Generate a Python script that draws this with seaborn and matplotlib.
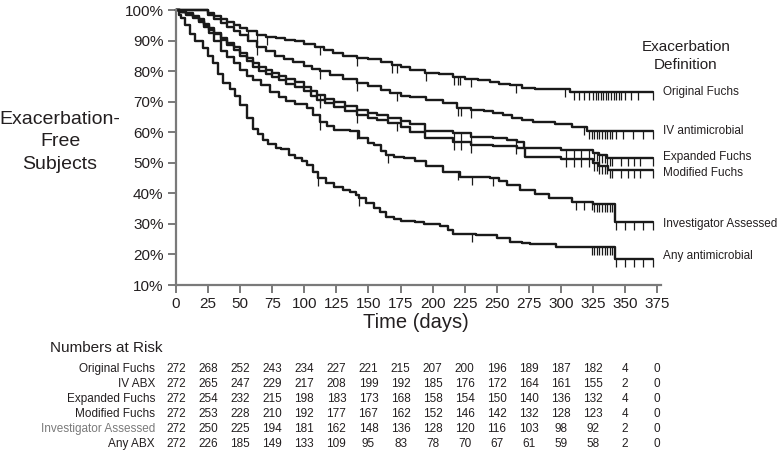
import numpy as np
import pandas as pd
import matplotlib
matplotlib.use("Agg")
import matplotlib.pyplot as plt
import matplotlib.transforms as mtransforms
from matplotlib.ticker import FuncFormatter
import seaborn as sns

# ---------------- data ----------------
orig_days = [0, 20, 25, 30, 35, 40, 45, 50, 55, 63, 70, 78, 85, 93, 100, 108, 115, 122, 130, 141,
             150, 160, 168, 175, 182, 194, 205, 216, 225, 235, 245, 252, 260, 270, 280, 307, 372]
orig_surv = [100, 100, 99, 98, 97, 96, 95, 94.2, 93, 91.8, 91.2, 90.7, 90.2, 89.8, 89, 88, 86.8, 85.8, 85, 84.3,
             84, 83, 82, 81.5, 80.5, 79.5, 79, 78.2, 77.5, 77, 76.5, 75.8, 75.3, 74.6, 74.0, 73.3, 73.3]

iv_days = [0, 20, 25, 30, 35, 40, 45, 50, 56, 63, 70, 77, 84, 91, 100, 106, 112, 120, 130, 141,
           150, 160, 167, 175, 182, 195, 208, 219, 230, 240, 247, 255, 262, 270, 278, 295, 309, 320, 372]
iv_surv = [100, 100, 98.5, 97, 95.8, 94.6, 93.2, 91.8, 90, 88, 86.5, 85, 84, 83, 81.8, 80.8, 80, 78.8, 77.5, 76.2,
           75, 73.8, 72.8, 72, 71.6, 70.5, 69.5, 68, 67.3, 66.8, 66.3, 65.5, 64.8, 64, 63.3, 62.8, 61.8, 60.5, 60.5]

exp_days = [0, 3, 8, 13, 18, 22, 26, 30, 35, 40, 45, 50, 55, 60, 65, 70, 75, 80, 86, 93, 100, 105, 110,
            116, 123, 132, 141, 150, 157, 165, 175, 182, 194, 216, 230, 247, 258, 266, 271, 300, 325, 330, 336, 372]
exp_surv = [100, 99.5, 99, 98, 97, 95.5, 94, 92.5, 91, 89.3, 87.8, 86, 84.3, 82.5, 81.3, 80.5, 79.5, 78.5, 77.3,
            76.3, 74.9, 73.5, 72.2, 71, 70, 68.5, 67.3, 66.3, 65.6, 64.6, 63.7, 62.6, 60.4, 59.6, 58.5, 58.2, 57.5,
            56.9, 54.7, 54.2, 53.3, 52.5, 51.5, 51.5]

mod_days = [0, 3, 8, 13, 18, 22, 26, 30, 35, 40, 45, 50, 55, 60, 65, 70, 75, 80, 86, 93, 100, 105, 110,
            116, 123, 132, 141, 150, 157, 165, 175, 182, 194, 216, 230, 247, 266, 272, 300, 325, 330, 337, 372]
mod_surv = [100, 99.5, 98.8, 97.8, 96.5, 95, 93.5, 92, 90.3, 88.5, 86.8, 85, 83.3, 81.2, 80, 79, 78, 77, 75.8,
            74.9, 73.5, 72, 70.5, 69.5, 68.4, 67, 65.6, 64.8, 64, 63, 61.8, 60.2, 58, 56.9, 55.8, 55.5, 55, 52,
            51.3, 50, 49, 47.5, 47.5]

inv_days = [0, 3, 8, 13, 18, 22, 26, 30, 35, 40, 45, 50, 55, 60, 66, 73, 80, 86, 93, 102, 107, 112, 118,
            123, 136, 143, 150, 154, 160, 164, 170, 178, 186, 195, 208, 221, 245, 252, 258, 268, 280, 291, 309,
            325, 342, 372]
inv_surv = [100, 99.5, 98.5, 97.5, 96, 94.5, 92.5, 90, 86.5, 84.5, 82.5, 80.5, 78.5, 77, 75.5, 73.3, 71.5, 70.3,
            69.2, 67.9, 65.5, 63.5, 62, 60.7, 60.3, 58, 56.5, 55.8, 54, 52.5, 52, 51.5, 50.6, 49, 47.1, 45.5, 45,
            44, 42.7, 41.1, 39.7, 38.4, 37.3, 36.4, 30.5, 30.5]

any_days = [0, 2, 4, 7, 11, 15, 21, 25, 29, 33, 37, 42, 46, 50, 55, 60, 64, 68, 72, 78, 82, 88, 93, 98,
            102, 107, 111, 117, 123, 130, 136, 140, 143, 148, 154, 159, 164, 170, 175, 186, 193, 206, 212, 216,
            234, 250, 260, 270, 276, 296, 325, 342, 372]
any_surv = [100, 98.5, 97.4, 95, 92, 90, 87.5, 85, 82.5, 79, 76, 74, 72, 69, 64.5, 61, 59.5, 57.5, 56, 55,
            54.5, 52.5, 51.6, 50.5, 49.3, 47, 45, 43.5, 42.2, 41.2, 40.5, 39.5, 38.5, 37, 35.2, 33.8, 32.4, 31.5,
            31, 30.7, 30, 29.4, 28, 26.7, 26.5, 25.3, 24.2, 23.6, 23.4, 22.6, 22.3, 18.5, 18.5]

# censoring times
orig_cens = [56, 63, 71, 112, 141, 168, 172, 195, 217, 220, 221, 230, 265, 303, 310, 314, 318, 322, 325, 327,
             329, 331, 333, 335, 337, 339, 341, 343, 345, 347, 350, 355, 360, 372]
iv_cens = [63, 112, 141, 172, 220, 222, 230, 318, 322, 324, 326, 328, 330, 332, 334, 336, 338, 340, 343, 348,
           356, 364, 372]
exp_cens = [112, 217, 222, 230, 265, 304, 310, 316, 322, 326, 328, 330, 332, 334, 336, 338, 340, 347, 352,
            357, 362, 372]
mod_cens = [112, 141, 172, 217, 222, 230, 265, 304, 310, 316, 322, 326, 328, 330, 332, 334, 336, 338, 340,
            347, 352, 357, 362, 372]
inv_cens = [112, 141, 165, 220, 231, 247, 312, 318, 324, 326, 328, 330, 332, 334, 336, 338, 340, 343, 350,
            357, 364, 372]
any_cens = [111, 143, 231, 324, 326, 328, 330, 332, 334, 336, 338, 340, 343, 350, 357, 364, 372]

curve_labels = ["Original Fuchs", "IV antimicrobial", "Expanded Fuchs", "Modified Fuchs",
                "Investigator Assessed", "Any antimicrobial"]

risk_days = [0, 25, 50, 75, 100, 125, 150, 175, 200, 225, 250, 275, 300, 325, 350, 375]
risk_rows = ["Original Fuchs", "IV ABX", "Expanded Fuchs", "Modified Fuchs", "Investigator Assessed", "Any ABX"]
risk_orig = [272, 268, 252, 243, 234, 227, 221, 215, 207, 200, 196, 189, 187, 182, 4, 0]
risk_iv = [272, 265, 247, 229, 217, 208, 199, 192, 185, 176, 172, 164, 161, 155, 2, 0]
risk_exp = [272, 254, 232, 215, 198, 183, 173, 168, 158, 154, 150, 140, 136, 132, 4, 0]
risk_mod = [272, 253, 228, 210, 192, 177, 167, 162, 152, 146, 142, 132, 128, 123, 4, 0]
risk_inv = [272, 250, 225, 194, 181, 162, 148, 136, 128, 120, 116, 103, 98, 92, 2, 0]
risk_any = [272, 226, 185, 149, 133, 109, 95, 83, 78, 70, 67, 61, 59, 58, 2, 0]

y_ticks = [10, 20, 30, 40, 50, 60, 70, 80, 90, 100]
x_ticks = risk_days

# ---------------- styling ----------------
sns.set_theme(style="white")
plt.rcParams["font.family"] = ["Liberation Sans", "DejaVu Sans"]
TXT = "#231f20"
AX = "#7a7a7a"

W, H = 777, 462
fig = plt.figure(figsize=(W / 100, H / 100), dpi=100)
fig.patch.set_facecolor("white")


def fx(px):
    return px / W


def fy(py):
    return 1 - py / H


ax = fig.add_axes([fx(176), fy(285), fx(661) - fx(176), fy(10) - fy(285)])
ax.set_facecolor("white")

curves = [
    (orig_days, orig_surv, orig_cens),
    (iv_days, iv_surv, iv_cens),
    (exp_days, exp_surv, exp_cens),
    (mod_days, mod_surv, mod_cens),
    (inv_days, inv_surv, inv_cens),
    (any_days, any_surv, any_cens),
]

for name, (d, s, c) in zip(curve_labels, curves):
    df = pd.DataFrame({"day": d, "surv": s})
    sns.lineplot(data=df, x="day", y="surv", estimator=None, sort=False, drawstyle="steps-post",
                 color="#1a1a1a", lw=1.7, ax=ax, clip_on=False)
    d_arr = np.asarray(d, dtype=float)
    s_arr = np.asarray(s, dtype=float)
    idx = np.searchsorted(d_arr, np.asarray(c, dtype=float), side="right") - 1
    ax.plot(c, s_arr[idx], ls="none", marker=3, ms=5.5, mew=0.9, color="#1a1a1a", clip_on=False)

ax.set_xlim(0, 378)
ax.set_ylim(10, 100)
ax.set_xticks(x_ticks)
ax.set_yticks(y_ticks)
ax.yaxis.set_major_formatter(FuncFormatter(lambda v, p: f"{int(v)}%"))
ax.set_xlabel("")
ax.set_ylabel("")
for sp in ["top", "right"]:
    ax.spines[sp].set_visible(False)
for sp in ["left", "bottom"]:
    ax.spines[sp].set_color(AX)
    ax.spines[sp].set_linewidth(1.6)
ax.tick_params(axis="both", which="major", direction="out", length=6, width=1.4, color=AX,
               labelsize=11, labelcolor=TXT, left=True, bottom=True)
ax.tick_params(axis="y", pad=3)
ax.tick_params(axis="x", pad=3)

# axis titles
fig.text(fx(416), fy(322), "Time (days)", ha="center", va="center", fontsize=14.5, color=TXT)
fig.text(fx(60), fy(142), "Exacerbation-\nFree\nSubjects", ha="center", va="center",
         fontsize=14, color=TXT, linespacing=1.45)

# legend-like labels
fig.text(fx(686), fy(56), "Exacerbation\nDefinition", ha="center", va="center", fontsize=11,
         color=TXT, linespacing=1.45)
label_y = [91.5, 130.5, 157, 173, 223.5, 256.5]
for name, ly in zip(curve_labels, label_y):
    fig.text(fx(663), fy(ly), name, ha="left", va="center", fontsize=8.5, color=TXT)

# numbers at risk table
fig.text(fx(50), fy(348), "Numbers at Risk", ha="left", va="center", fontsize=11, color=TXT)
trans = mtransforms.blended_transform_factory(ax.transData, fig.transFigure)
row_y = [369, 384, 399, 414, 429, 444]
risk_vals = [risk_orig, risk_iv, risk_exp, risk_mod, risk_inv, risk_any]
for rname, vals, ry in zip(risk_rows, risk_vals, row_y):
    col = "#7a7a7a" if rname == "Investigator Assessed" else TXT
    fig.text(fx(155), fy(ry), rname, ha="right", va="center", fontsize=8.5, color=col)
    for dday, v in zip(risk_days, vals):
        ax.text(dday, fy(ry), str(v), transform=trans, ha="center", va="center", fontsize=8.5,
                color=TXT, clip_on=False)

fig.savefig("out.png", dpi=100, facecolor="white")
